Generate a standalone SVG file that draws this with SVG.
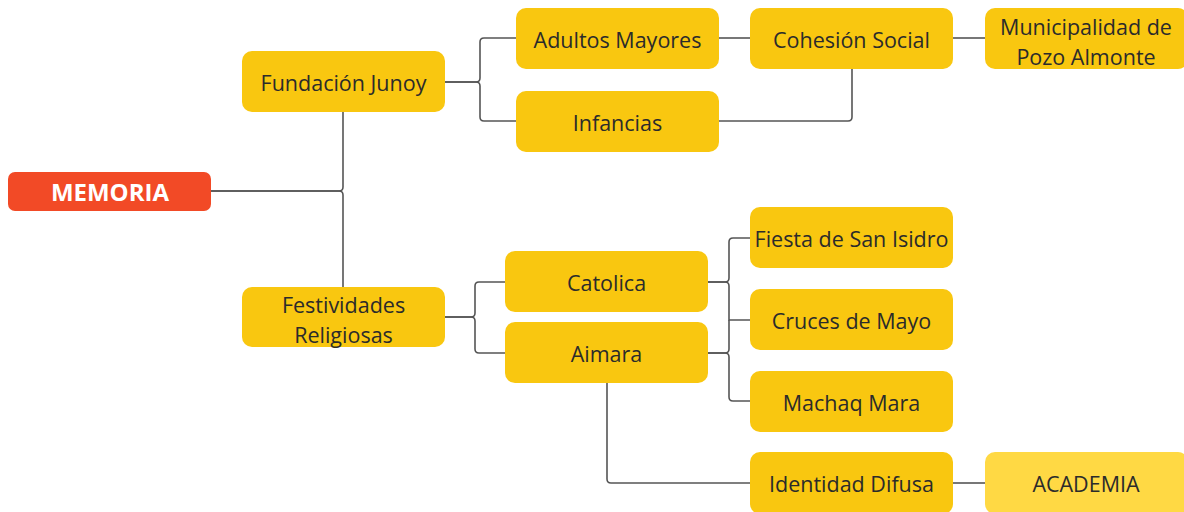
<svg xmlns="http://www.w3.org/2000/svg" width="1184" height="512" viewBox="0 0 1184 512">
<style>
.n{fill:#F9C710;}
.a{fill:#FFD944;}
.r{fill:#F24A26;}
.t{font-family:"Open Sans","Liberation Sans",sans-serif;font-size:21.5px;fill:#2b2b2b;text-anchor:middle;dominant-baseline:central;}
.m{font-family:"Open Sans","Liberation Sans",sans-serif;font-size:24px;font-weight:bold;fill:#ffffff;text-anchor:middle;dominant-baseline:central;}
.c path{fill:none;stroke:#555555;stroke-width:1.6;}
</style>
<rect width="1184" height="512" fill="#ffffff"/>
<g class="c" id="connectors">
<path d="M211,191 H339 Q343,191 343,187 V112"/>
<path d="M211,191 H339 Q343,191 343,195 V287"/>
<path d="M445,82 H476 Q480,82 480,78 V42 Q480,38 484,38 H516"/>
<path d="M445,82 H476 Q480,82 480,86 V117 Q480,121 484,121 H516"/>
<path d="M719,38 H750"/>
<path d="M719,121 H848 Q852,121 852,117 V69"/>
<path d="M953,38 H985"/>
<path d="M445,317 H471 Q475,317 475,313 V286 Q475,282 479,282 H505"/>
<path d="M445,317 H471 Q475,317 475,321 V349 Q475,353 479,353 H505"/>
<path d="M708,282 H725 Q729,282 729,278 V242 Q729,238 733,238 H750"/>
<path d="M708,282 H725 Q729,282 729,286 V320 H750"/>
<path d="M708,353 H725 Q729,353 729,349 V320"/>
<path d="M708,353 H725 Q729,353 729,357 V397 Q729,401 733,401 H750"/>
<path d="M607,383 V479 Q607,483 611,483 H750"/>
<path d="M953,483 H985"/>
</g>
<g id="memoria"><rect class="r" x="8" y="172" width="203" height="39" rx="7"/><text class="m" x="110" y="191">MEMORIA</text></g>
<g id="fundacion"><rect class="n" x="242" y="51" width="203" height="61" rx="10"/><text class="t" x="343.5" y="82">Fundación Junoy</text></g>
<g id="adultos"><rect class="n" x="516" y="8" width="203" height="61" rx="10"/><text class="t" x="617.5" y="39">Adultos Mayores</text></g>
<g id="infancias"><rect class="n" x="516" y="91" width="203" height="61" rx="10"/><text class="t" x="617.5" y="122">Infancias</text></g>
<g id="cohesion"><rect class="n" x="750" y="8" width="203" height="61" rx="10"/><text class="t" x="851.5" y="39">Cohesión Social</text></g>
<g id="municipalidad"><rect class="n" x="985" y="8" width="203" height="61" rx="10"/><text class="t" x="1086" y="26">Municipalidad de</text><text class="t" x="1086" y="56">Pozo Almonte</text></g>
<g id="festividades"><rect class="n" x="242" y="287" width="203" height="60" rx="10"/><text class="t" x="343.5" y="304">Festividades</text><text class="t" x="343.5" y="334">Religiosas</text></g>
<g id="catolica"><rect class="n" x="505" y="251" width="203" height="61" rx="10"/><text class="t" x="606.5" y="282">Catolica</text></g>
<g id="aimara"><rect class="n" x="505" y="322" width="203" height="61" rx="10"/><text class="t" x="606.5" y="353">Aimara</text></g>
<g id="fiesta"><rect class="n" x="750" y="207" width="203" height="61" rx="10"/><text class="t" x="851.5" y="238">Fiesta de San Isidro</text></g>
<g id="cruces"><rect class="n" x="750" y="289" width="203" height="61" rx="10"/><text class="t" x="851.5" y="320">Cruces de Mayo</text></g>
<g id="machaq"><rect class="n" x="750" y="371" width="203" height="61" rx="10"/><text class="t" x="851.5" y="402">Machaq Mara</text></g>
<g id="identidad"><rect class="n" x="750" y="452" width="203" height="62" rx="10"/><text class="t" x="851.5" y="483">Identidad Difusa</text></g>
<g id="academia"><rect class="a" x="985" y="452" width="203" height="62" rx="10"/><text class="t" x="1086" y="483">ACADEMIA</text></g>
</svg>
